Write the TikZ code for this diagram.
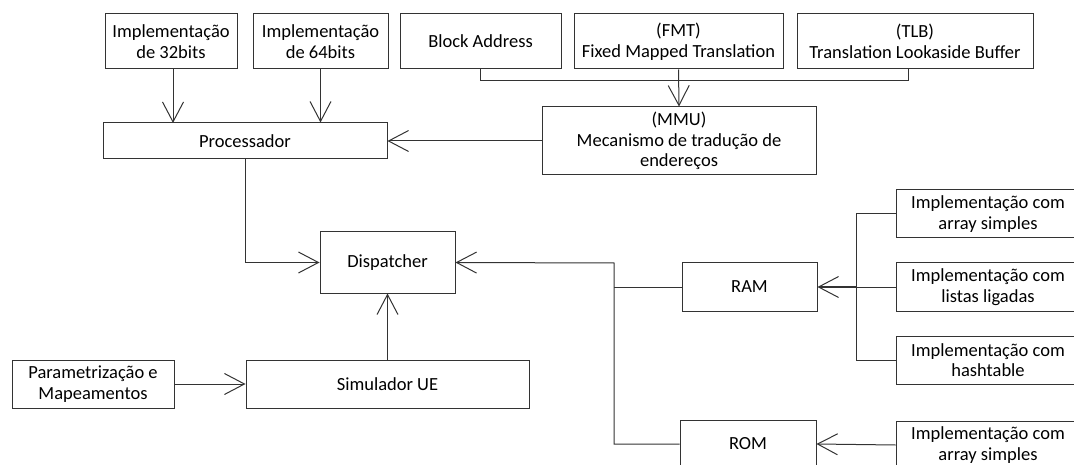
\documentclass[tikz,border=0pt]{standalone}
\usepackage{fontspec}
\setmainfont{Carlito}
\usetikzlibrary{arrows.meta}
\begin{document}
\begin{tikzpicture}[x=1pt,y=-1pt,
  box/.style={draw=black!80, line width=1pt, inner sep=0pt, align=center,
    font=\fontsize{18.5}{20.5}\selectfont},
  link/.style={draw=black!80, line width=1pt},
  arr/.style={link, -{Straight Barb[length=20pt,width=21pt,line width=1pt]}}]
\useasboundingbox (0,0) rectangle (1074,465);
\clip (0,0) rectangle (1074,465);

% top row: inputs to the processor and the MMU
\node[box, minimum width=132pt, minimum height=55pt] (i32) at (171,41.5) {Implementação\\de 32bits};
\node[box, minimum width=135pt, minimum height=55pt] (i64) at (320.5,41.5) {Implementação\\de 64bits};
\node[box, minimum width=161pt, minimum height=55pt] (blk) at (480.5,41.5) {Block Address};
\node[box, minimum width=209pt, minimum height=55pt] (fmt) at (678.5,41.5) {(FMT)\\Fixed Mapped Translation};
\node[box, minimum width=236pt, minimum height=55pt] (tlb) at (915,41.5) {(TLB)\\Translation Lookaside Buffer};

\node[box, minimum width=274pt, minimum height=68pt] (mmu) at (679,141) {(MMU)\\Mecanismo de tradução de\\endereços};
\node[box, minimum width=284pt, minimum height=36pt] (proc) at (245,141) {Processador};

% core
\node[box, minimum width=135pt, minimum height=61pt] (disp) at (387.5,262.5) {Dispatcher};
\node[box, minimum width=283pt, minimum height=48pt] (sim) at (387.5,384) {Simulador UE};
\node[box, minimum width=162pt, minimum height=48pt] (par) at (93,384) {Parametrização e\\Mapeamentos};

% memories
\node[box, minimum width=135pt, minimum height=48pt] (ram) at (749.5,287) {RAM};
\node[box, minimum width=136pt, minimum height=48pt] (rom) at (748,444) {ROM};

% memory implementations
\node[box, minimum width=184pt, minimum height=48pt] (ia) at (988,214) {Implementação com\\array simples};
\node[box, minimum width=184pt, minimum height=48pt] (ib) at (988,287) {Implementação com\\listas ligadas};
\node[box, minimum width=184pt, minimum height=48pt] (ic) at (988,360) {Implementação com\\hashtable};
\node[box, minimum width=184pt, minimum height=48pt] (id) at (988,445) {Implementação com\\array simples};

% junction points
\coordinate (j) at (614,263);
\coordinate (k) at (856,287);

% connectors
\draw[arr] (173,69) -- (173,123);
\draw[arr] (i64.south) -- (i64.south |- proc.north);
\draw[link] (blk.south) -- ++(0,11) -| (908,69);
\draw[arr] (fmt.south) -- (mmu.north);
\draw[arr] (mmu.west) -- (proc.east);
\draw[arr] (proc.south) |- (disp.west);
\draw[arr] (sim.north) -- (disp.south);
\draw[arr] (par.east) -- (sim.west);
\draw[arr] (rom.west) -| (j) -- (disp.east);
\draw[link] (ram.west) -- (ram.west -| j);
\draw[link] (ia.west) -| (k |- ic.west) -- (ic.west);
\draw[link] (ib.west) -- (k);
\draw[arr, line width=1.6pt] (k) -- (ram.east);
\draw[arr] (id.west) -- (rom.east);
\end{tikzpicture}
\end{document}
